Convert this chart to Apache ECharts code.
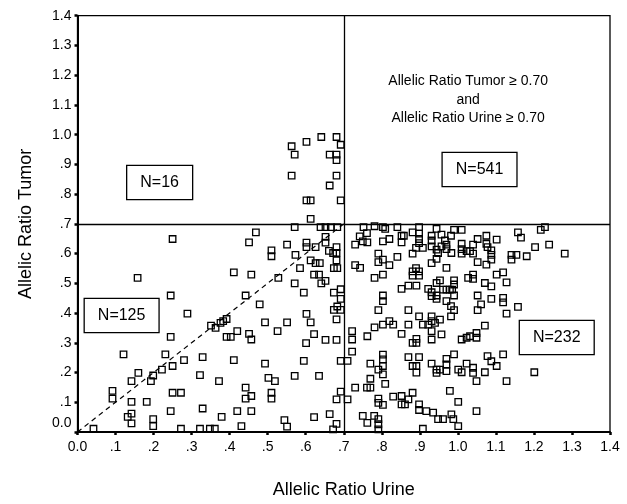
<!DOCTYPE html>
<html>
<head>
<meta charset="utf-8">
<script src="https://cdn.jsdelivr.net/npm/echarts@6/dist/echarts.min.js"></script>
<style>
  html, body { margin: 0; padding: 0; background: #fff; }
  #chart { width: 627px; height: 504px; }
</style>
</head>
<body>
<div id="chart"></div>
<script>
// ---- data ----
const urine = [
  0.042,0.092,0.092,0.121,0.132,0.142,0.142,0.142,0.142,0.158,0.160,0.182,0.193,0.199,0.199,0.199,0.222,0.231,0.250,0.245,0.245,0.245,0.250,0.250,0.272,0.272,0.280,
  0.469,0.451,0.510,0.510,0.411,0.457,0.528,0.442,0.479,0.289,0.351,0.363,0.376,0.383,0.392,0.392,0.403,0.420,0.451,0.457,0.493,0.526,0.329,0.411,0.493,0.322,0.372,0.502,0.519,0.442,0.442,0.457,0.510,0.510,0.329,0.379,0.420,0.457,0.431,0.322,0.348,0.361,
  0.571,0.639,0.652,0.666,0.683,0.551,0.602,0.602,0.626,0.652,0.652,0.661,0.681,0.672,0.681,0.681,0.674,0.683,0.573,0.613,0.626,0.637,0.585,0.622,0.635,0.652,0.641,0.571,0.595,0.674,0.692,0.692,0.674,0.683,0.692,0.681,0.602,0.613,0.551,0.622,0.601,0.652,0.681,0.595,0.692,0.710,0.571,0.635,0.692,0.681,0.710,0.544,0.551,0.622,0.663,0.681,0.672,
  0.563,0.571,0.602,0.641,0.681,0.692,0.663,0.681,0.681,0.563,0.681,0.663,0.602,0.613,0.692,0.613,
  0.752,0.781,0.803,0.841,0.898,0.742,0.761,0.750,0.762,0.730,0.809,0.803,0.820,0.852,0.858,0.852,0.881,0.898,0.898,0.898,0.890,0.908,0.791,0.791,0.803,0.820,0.841,0.881,0.730,0.743,0.781,0.803,0.852,0.870,0.891,0.881,0.881,0.898,0.898,0.890,0.803,0.803,0.791,0.870,0.898,0.781,0.803,0.820,0.830,0.870,0.852,0.908,0.722,0.722,0.762,0.881,0.891,0.891,0.722,0.770,0.803,0.803,0.803,0.803,0.791,0.870,0.898,0.881,0.891,0.891,0.770,0.809,0.730,0.761,0.770,0.791,0.791,0.803,0.830,0.852,0.852,0.861,0.870,0.881,0.898,0.898,0.917,0.750,0.762,0.780,0.791,0.791,0.791,0.908,
  0.944,0.957,0.931,0.931,0.931,0.944,0.948,0.957,0.966,0.970,0.970,0.982,0.990,1.010,0.983,0.931,0.944,0.970,1.010,1.010,1.010,1.023,1.032,1.040,1.040,1.052,1.052,1.075,1.075,1.078,1.088,1.088,1.088,1.102,1.075,1.141,1.154,1.141,1.158,
  1.027,1.040,1.040,1.102,1.119,1.071,1.088,1.128,0.953,0.944,0.990,0.990,0.922,0.931,0.931,0.944,0.944,0.961,0.970,0.979,0.985,0.990,0.970,0.982,0.990,0.982,1.052,1.061,1.052,1.088,1.119,1.119,1.158,1.128,0.931,0.931,0.922,0.940,0.953,0.931,0.931,0.957,1.010,1.023,1.032,1.049,1.049,1.071,
  0.990,0.970,0.970,0.970,0.931,0.944,0.953,0.944,1.001,1.010,1.023,1.040,1.040,1.049,1.071,1.078,1.088,1.102,1.119,1.128,0.979,1.001,0.935,0.948,0.961,0.983,0.988,1.001,1.049,
  1.166,1.218,1.229,1.203,1.240,1.181,1.281,1.201
];
const tumor = [
  0.011,0.138,0.112,0.261,0.051,0.062,0.029,0.101,0.171,0.518,0.199,0.101,0.171,0.190,0.043,0.020,0.210,0.261,0.649,0.459,0.320,0.070,0.222,0.132,0.132,0.011,0.242,
  0.671,0.638,0.611,0.591,0.537,0.529,0.518,0.459,0.429,0.398,0.358,0.350,0.367,0.373,0.380,0.320,0.320,0.339,0.330,0.311,0.369,0.339,0.252,0.242,0.230,0.191,0.171,0.182,0.171,0.149,0.112,0.121,0.132,0.112,0.079,0.051,0.070,0.070,0.020,0.011,0.011,0.011,
  0.689,0.689,0.689,0.689,0.689,0.630,0.637,0.622,0.622,0.656,0.637,0.609,0.622,0.602,0.602,0.577,0.551,0.551,0.596,0.577,0.568,0.568,0.551,0.529,0.529,0.508,0.500,0.500,0.469,0.469,0.480,0.448,0.411,0.422,0.411,0.379,0.397,0.369,0.369,0.329,0.299,0.310,0.310,0.239,0.239,0.239,0.189,0.189,0.136,0.110,0.110,0.040,0.018,0.050,0.060,0.027,0.009,
  0.961,0.933,0.976,0.992,0.992,0.966,0.933,0.933,0.914,0.862,0.862,0.829,0.779,0.779,0.779,0.717,
  0.689,0.692,0.689,0.689,0.689,0.658,0.669,0.641,0.638,0.630,0.683,0.641,0.649,0.660,0.660,0.638,0.671,0.667,0.649,0.635,0.619,0.619,0.600,0.571,0.580,0.561,0.589,0.600,0.561,0.552,0.518,0.529,0.481,0.492,0.492,0.540,0.526,0.540,0.526,0.551,0.459,0.440,0.410,0.410,0.389,0.352,0.361,0.373,0.361,0.361,0.330,0.361,0.339,0.311,0.322,0.300,0.313,0.300,0.270,0.230,0.260,0.244,0.222,0.194,0.210,0.252,0.252,0.222,0.222,0.200,0.179,0.162,0.149,0.149,0.149,0.112,0.098,0.091,0.119,0.121,0.093,0.093,0.110,0.132,0.093,0.074,0.070,0.054,0.031,0.054,0.043,0.026,0.009,0.011,
  0.683,0.664,0.660,0.644,0.624,0.613,0.602,0.624,0.644,0.630,0.615,0.660,0.680,0.680,0.602,0.568,0.582,0.552,0.633,0.615,0.600,0.608,0.608,0.600,0.630,0.649,0.571,0.660,0.633,0.622,0.611,0.596,0.580,0.647,0.563,0.596,0.596,0.580,0.671,
  0.518,0.529,0.515,0.529,0.537,0.501,0.490,0.503,0.510,0.501,0.510,0.496,0.481,0.470,0.457,0.459,0.448,0.479,0.479,0.479,0.479,0.459,0.440,0.423,0.410,0.389,0.459,0.429,0.410,0.448,0.451,0.436,0.421,0.398,0.389,0.373,0.361,0.367,0.378,0.339,0.311,0.328,0.311,0.317,0.322,0.333,0.317,0.358,
  0.261,0.246,0.227,0.205,0.230,0.210,0.210,0.199,0.210,0.201,0.230,0.216,0.199,0.171,0.201,0.255,0.238,0.222,0.261,0.171,0.138,0.101,0.065,0.043,0.043,0.059,0.043,0.020,0.070,
  0.654,0.680,0.689,0.622,0.630,0.591,0.600,0.201
];
const tickLabels = ['0.0','.1','.2','.3','.4','.5','.6','.7','.8','.9','1.0','1.1','1.2','1.3','1.4'];
const threshold = 0.70;
const countLabels = ['N=16', 'N=541', 'N=125', 'N=232'];
const conditionText = ['Allelic Ratio Tumor \u2265 0.70', 'and', 'Allelic Ratio Urine \u2265 0.70'];
const xTitle = 'Allelic Ratio Urine';
const yTitle = 'Allelic Ratio Tumor';

const points = urine.map((u, i) => [u, tumor[i]]);
const FONT = 'Liberation Sans, Arial, sans-serif';

const chart = echarts.init(document.getElementById('chart'), null, { renderer: 'canvas' });

function fmt(v) { return tickLabels[Math.round(v * 10)] || ''; }

const boxLabel = {
  show: true, position: 'inside', color: '#000', fontFamily: FONT, fontSize: 16,
  backgroundColor: '#fff', borderColor: '#000', borderWidth: 1.3,
  padding: [8, 13, 7, 13], lineHeight: 18
};

const option = {
  backgroundColor: '#fff',
  animation: false,
  grid: { left: 77.5, right: 17, top: 15.7, bottom: 71.3, show: true, borderColor: '#000', borderWidth: 1.3, backgroundColor: 'transparent' },
  xAxis: {
    type: 'value', min: 0, max: 1.4, interval: 0.1,
    name: xTitle, nameLocation: 'middle', nameGap: 49,
    nameTextStyle: { fontFamily: FONT, fontSize: 18, color: '#000' },
    axisLine: { show: true, lineStyle: { color: '#000', width: 2 } },
    axisTick: { show: true, length: 3, lineStyle: { color: '#000', width: 2.5 } },
    axisLabel: { formatter: fmt, fontFamily: FONT, fontSize: 14, color: '#000', margin: 8 },
    splitLine: { show: false }
  },
  yAxis: {
    type: 'value', min: 0, max: 1.4, interval: 0.1,
    name: yTitle, nameLocation: 'middle', nameGap: 42,
    nameTextStyle: { fontFamily: FONT, fontSize: 18, color: '#000' },
    axisLine: { show: true, lineStyle: { color: '#000', width: 2 } },
    axisTick: { show: true, length: 3, lineStyle: { color: '#000', width: 2.5 } },
    axisLabel: {
      formatter: function (v) { const s = fmt(v); return v === 0 ? '{lift|' + s + '}' : s; },
      rich: { lift: { padding: [0, 0, 18, 0], fontFamily: FONT, fontSize: 14, color: '#000' } },
      fontFamily: FONT, fontSize: 14, color: '#000', margin: 6
    },
    splitLine: { show: false }
  },
  series: [
    {
      type: 'scatter',
      data: points,
      symbol: 'rect',
      symbolSize: 6.5,
      itemStyle: { color: 'rgba(255,255,255,0)', borderColor: '#000', borderWidth: 1.3, opacity: 1 },
      z: 3,
      markLine: {
        silent: true, symbol: 'none', animation: false,
        label: { show: false },
        lineStyle: { color: '#000', width: 1.3, type: 'solid' },
        data: [
          { xAxis: threshold },
          { yAxis: threshold },
          [ { coord: [0, 0], lineStyle: { type: [5, 4], width: 1.2, color: '#000' } }, { coord: [threshold, threshold] } ]
        ]
      },
      markPoint: {
        silent: true, symbol: 'rect', symbolSize: 0, animation: false,
        data: [
          { coord: [0.216, 0.839], value: countLabels[0], label: boxLabel },
          { coord: [1.057, 0.883], value: countLabels[1], label: boxLabel },
          { coord: [0.116, 0.392], value: countLabels[2], label: boxLabel },
          { coord: [1.260, 0.318], value: countLabels[3], label: boxLabel },
          { coord: [1.027, 1.117], value: conditionText.join('\n'),
            label: { show: true, position: 'inside', color: '#000', fontFamily: FONT, fontSize: 14, lineHeight: 18.5, align: 'center' } }
        ],
        label: { formatter: function (p) { return p.value; } }
      }
    }
  ]
};
chart.setOption(option);
</script>
</body>
</html>
